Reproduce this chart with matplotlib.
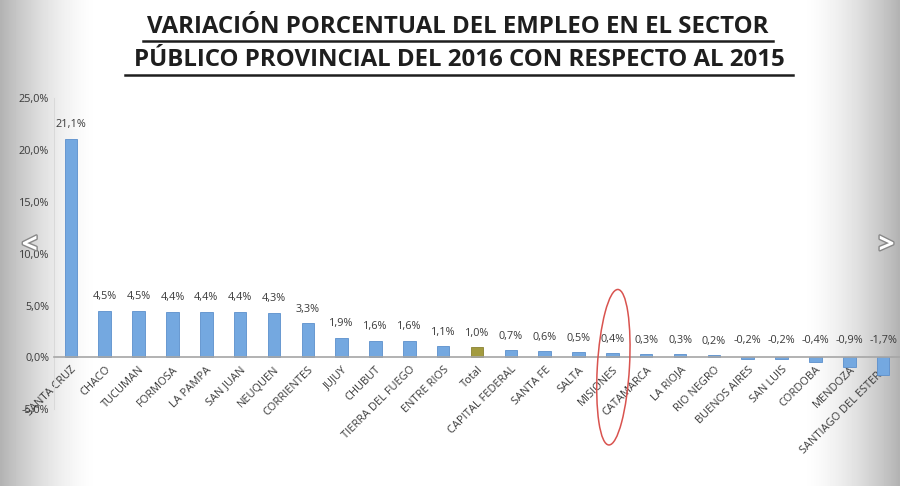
import numpy as np
import matplotlib
matplotlib.use("Agg")
import matplotlib.pyplot as plt
from matplotlib.patches import Ellipse
import matplotlib.patheffects as pe

categories = ["SANTA CRUZ", "CHACO", "TUCUMAN", "FORMOSA", "LA PAMPA", "SAN JUAN",
              "NEUQUEN", "CORRIENTES", "JUJUY", "CHUBUT", "TIERRA DEL FUEGO",
              "ENTRE RIOS", "Total", "CAPITAL FEDERAL", "SANTA FE", "SALTA",
              "MISIONES", "CATAMARCA", "LA RIOJA", "RIO NEGRO", "BUENOS AIRES",
              "SAN LUIS", "CORDOBA", "MENDOZA", "SANTIAGO DEL ESTERO"]
values = [21.1, 4.5, 4.5, 4.4, 4.4, 4.4, 4.3, 3.3, 1.9, 1.6, 1.6, 1.1, 1.0,
          0.7, 0.6, 0.5, 0.4, 0.3, 0.3, 0.2, -0.2, -0.2, -0.4, -0.9, -1.7]
yticks = [-5, 0, 5, 10, 15, 20, 25]
highlight = "MISIONES"

plt.rcParams['font.family'] = ['Open Sans', 'DejaVu Sans']

fig = plt.figure(figsize=(9, 4.86), dpi=100)

# background gradient (screenshot edges)
bg = fig.add_axes([0, 0, 1, 1], zorder=-10)
xs = np.linspace(0, 1, 900)
left = np.clip(1 - xs / 0.11, 0, 1) ** 1.6
right = np.clip((xs - 0.89) / 0.11, 0, 1) ** 1.6
shade = 1 - 0.30 * np.maximum(left, right)
img = np.tile(shade, (10, 1))
bg.imshow(img, cmap='gray', vmin=0, vmax=1, aspect='auto', extent=[0, 1, 0, 1])
bg.set_xlim(0, 1); bg.set_ylim(0, 1)
bg.axis('off')

ax = fig.add_axes([0.06, 0.158, 0.94, 0.64])
ax.patch.set_alpha(0)
for sp in ['top', 'right']:
    ax.spines[sp].set_visible(False)
ax.spines['bottom'].set_position(('data', 0))
ax.spines['bottom'].set_color('#a6a6a6')
ax.spines['bottom'].set_linewidth(1.2)
ax.spines['bottom'].set_zorder(3)
ax.spines['left'].set_color('#d9d9d9')

x = np.arange(len(categories))
colors = ['#a39b3f' if c == 'Total' else '#74a8e0' for c in categories]
edges = ['#8a8232' if c == 'Total' else '#5b8fcc' for c in categories]
bars = ax.bar(x, values, width=0.37, color=colors, edgecolor=edges, linewidth=0.6, zorder=2)

for xi, v in zip(x, values):
    s = f"{v:.1f}%".replace('.', ',')
    y = max(v, 0)
    ax.annotate(s, (xi, y), xytext=(0, 6 if v >= 0 else 8), textcoords='offset points',
                ha='center', va='bottom', fontsize=7.8, color='#3a3a3a')

ax.set_ylim(-5, 25)
ax.set_xlim(-0.5, len(categories) - 0.5)
ax.set_yticks(yticks)
ax.set_yticklabels([f"{t:.1f}%".replace('.', ',') for t in yticks], fontsize=7.8, color='#3a3a3a')
ax.set_xticks(x)
ax.set_xticklabels(categories, rotation=45, ha='right', va='top', rotation_mode='anchor',
                   fontsize=7.9, color='#3a3a3a')
ax.tick_params(axis='both', length=0)
ax.tick_params(axis='x', pad=5)

# red ellipse around highlighted category
hi = categories.index(highlight)
ell = Ellipse((hi + 0.03, -0.95), width=0.95, height=15.0, angle=-1, fill=False,
              edgecolor='#d9534f', lw=1.1, clip_on=False, zorder=5)
ax.add_patch(ell)

fig.text(0.509, 0.944, "VARIACIÓN PORCENTUAL DEL EMPLEO EN EL SECTOR", ha='center', va='center',
         fontsize=17.3, fontweight='bold', color='#1e1e1e')
fig.text(0.510, 0.877, "PÚBLICO PROVINCIAL DEL 2016 CON RESPECTO AL 2015", ha='center', va='center',
         fontsize=17.3, fontweight='bold', color='#1e1e1e')
fig.add_artist(plt.Line2D([0.159, 0.859], [0.915, 0.915], color='#1e1e1e', lw=1.8))
fig.add_artist(plt.Line2D([0.139, 0.881], [0.845, 0.845], color='#1e1e1e', lw=1.8))

# carousel arrows
for xp, s in [(0.033, '<'), (0.985, '>')]:
    fig.text(xp, 0.495, s, ha='center', va='center', fontsize=20, fontweight='bold',
             color='white', path_effects=[pe.withStroke(linewidth=2, foreground='#888888')])

fig.savefig("out.png", dpi=100)
